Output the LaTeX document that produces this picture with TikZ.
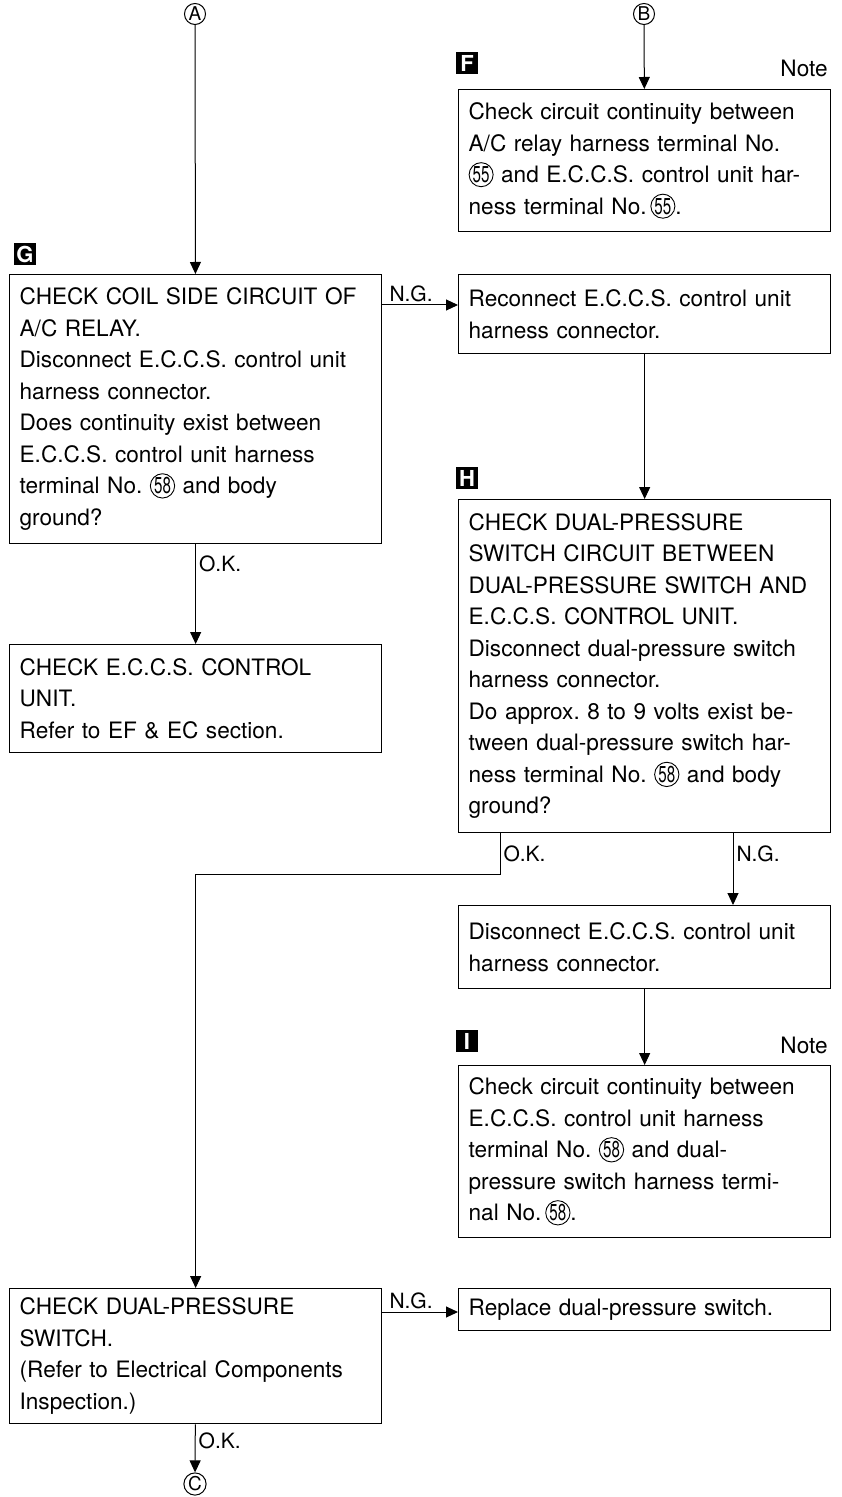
\documentclass[tikz,border=0pt]{standalone}
\usepackage{fontspec}
\setmainfont{TeX Gyre Heros}
\usepackage{tikz}
\usetikzlibrary{positioning}
\usetikzlibrary{arrows.meta}

\tikzset{
	box/.style={draw, line width=0.65pt, anchor=north west, text width=176pt, inner xsep=5pt, inner ysep=4pt, align=left, font=\fontsize{11.3}{15.75}\selectfont},
	tag/.style={fill=black, text=white, inner sep=0pt, minimum size=11pt, font=\bfseries\fontsize{11}{11}\selectfont},
	link/.style={circle, draw, line width=0.5pt, inner sep=0.4pt, font=\fontsize{9.5}{9.5}\selectfont},
	flow/.style={-{Triangle[length=6pt,width=5.5pt]}, line width=0.5pt},
	result/.style={font=\fontsize{10.5}{10.5}\selectfont, inner sep=1.5pt},
}
\newcommand{\term}[1]{\tikz[baseline=(t.base)]\node[draw, circle, line width=0.45pt, inner sep=0.1pt, minimum size=0pt, anchor=center, text width={}, align=center, font=\fontsize{11.5}{11.5}\selectfont](t){\scalebox{0.66}[1]{#1}};}

\begin{document}
\begin{tikzpicture}[x=0.5pt, y=-0.5pt]
			\useasboundingbox (0,0) rectangle (841,1497);
			\node[link] (ConA) at (195,14) {A};
			\node[link] (ConB) at (644,14) {B};
			\node[link] (ConC) at (195,1484) {C};
			\node[tag] (TagF) at (467,63) {F};
			\node[tag] (TagG) at (25,254) {G};
			\node[tag] (TagH) at (467,478) {H};
			\node[tag] (TagI) at (467,1041) {I};
			\node[result, anchor=base east, font=\fontsize{11.3}{11.3}\selectfont] (NoteF) at (831,77) {Note};
			\node[result, anchor=base east, font=\fontsize{11.3}{11.3}\selectfont] (NoteI) at (831,1053) {Note};
			\node[box, minimum height=71pt] (Continuity) at (458,89) {Check circuit continuity between\\A/C relay harness terminal No.\\\term{55} and E.C.C.S. control unit har-\\ness terminal No.\,\term{55}.};
			\node[box, minimum height=134.5pt] (CoilSide) at (9,274) {CHECK COIL SIDE CIRCUIT OF\\A/C RELAY.\\Disconnect E.C.C.S. control unit\\harness connector.\\Does continuity exist between\\E.C.C.S. control unit harness\\terminal No.\ \term{58} and body\\ground?};
			\node[box, minimum height=39.5pt] (Reconnect) at (458,274) {Reconnect E.C.C.S. control unit\\harness connector.};
			\node[box, minimum height=166.5pt] (CheckDual) at (458,499) {CHECK DUAL-PRESSURE\\SWITCH CIRCUIT BETWEEN\\DUAL-PRESSURE SWITCH AND\\E.C.C.S. CONTROL UNIT.\\Disconnect dual-pressure switch\\harness connector.\\Do approx.\ 8 to 9 volts exist be-\\tween dual-pressure switch har-\\ness terminal No.\ \term{58} and body\\ground?};
			\node[box, minimum height=54pt] (ControlUnit) at (9,644) {CHECK E.C.C.S. CONTROL\\UNIT.\\Refer to EF \& EC section.};
			\node[box, minimum height=41.5pt] (Disconnect) at (458,905) {Disconnect E.C.C.S. control unit\\harness connector.};
			\node[box, minimum height=86pt] (CheckECCS) at (458,1065) {Check circuit continuity between\\E.C.C.S. control unit harness\\terminal No.\ \term{58} and dual-\\pressure switch harness termi-\\nal No.\,\term{58}.};
			\node[box, minimum height=67.5pt] (CheckSwitch) at (9,1288) {CHECK DUAL-PRESSURE\\SWITCH.\\(Refer to Electrical Components\\Inspection.)};
			\node[box, minimum height=21pt] (Replace) at (458,1288) {Replace dual-pressure switch.};
			\coordinate (CoilNG) at ([yshift=-15.5pt]CoilSide.north east);
			\coordinate (DualOK) at ([xshift=21pt]CheckDual.south west);
			\coordinate (DualNG) at ([xshift=137.5pt]CheckDual.south west);
			\coordinate (SwitchNG) at ([yshift=-12pt]CheckSwitch.north east);
			\draw[flow] (ConA) -- (CoilSide);
			\draw[flow] (ConB) -- (Continuity);
			\draw[flow] (CoilNG) -- node[result, above, pos=0.38] {N.G.} (CoilNG -| Reconnect.west);
			\draw[flow] (Reconnect) -- (CheckDual);
			\draw[flow] (CoilSide) -- node[result, anchor=west, pos=0.2] {O.K.} (ControlUnit);
			\draw[flow] (DualOK) -- node[result, anchor=west, pos=0.5] {O.K.} ++(0,41) -| (CheckSwitch);
			\draw[flow] (DualNG) -- node[result, anchor=west, pos=0.29] {N.G.} (DualNG |- Disconnect.north);
			\draw[flow] (Disconnect) -- (CheckECCS);
			\draw[flow] (SwitchNG) -- node[result, above, pos=0.38] {N.G.} (SwitchNG -| Replace.west);
			\draw[flow] (CheckSwitch) -- node[result, anchor=west, pos=0.35] {O.K.} (ConC);
		\end{tikzpicture}
\end{document}
